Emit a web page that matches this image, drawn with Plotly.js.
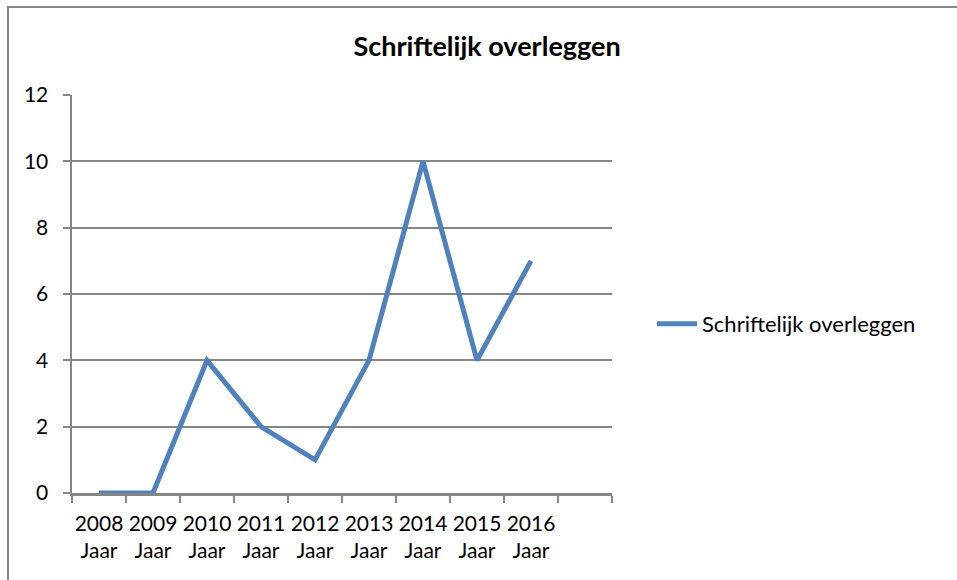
<!DOCTYPE html>
<html>
<head>
<meta charset="utf-8">
<script src="https://cdn.plot.ly/plotly-3.0.1.min.js"></script>
<style>html,body{margin:0;padding:0;background:#fff;}#chart{width:957px;height:580px;}</style>
</head>
<body>
<div id="chart"></div>
<script>
var categories = ["2008 Jaar", "2009 Jaar", "2010 Jaar", "2011 Jaar", "2012 Jaar", "2013 Jaar", "2014 Jaar", "2015 Jaar", "2016 Jaar"];
var tickLabels = ["2008<br>Jaar", "2009<br>Jaar", "2010<br>Jaar", "2011<br>Jaar", "2012<br>Jaar", "2013<br>Jaar", "2014<br>Jaar", "2015<br>Jaar", "2016<br>Jaar"];
var values = [0, 0, 4, 2, 1, 4, 10, 4, 7];
var seriesName = "Schriftelijk overleggen";
var chartTitle = "Schriftelijk overleggen";
var slotCount = 10;

var idx = categories.map(function(c, i){ return i; });
var boundaries = [];
for (var b = 0; b <= slotCount; b++) boundaries.push(b - 0.5);

var gray = "#868686";
var fontFam = "Lato, 'Open Sans', sans-serif";

var data = [{
  x: idx,
  y: values,
  type: "scatter",
  mode: "lines",
  name: seriesName,
  line: {color: "#4F81BD", width: 5},
  xaxis: "x",
  yaxis: "y"
}];

var layout = {
  width: 957,
  height: 580,
  margin: {l: 72, r: 345, t: 95, b: 87},
  paper_bgcolor: "#fff",
  plot_bgcolor: "#fff",
  font: {family: fontFam, size: 20, color: "#000"},
  title: {
    text: "<b>" + chartTitle + "</b>",
    font: {family: fontFam, size: 27, color: "#000"},
    xref: "container", x: 0.509, xanchor: "center",
    yref: "container", y: 1 - 47/580, yanchor: "middle"
  },
  showlegend: true,
  legend: {
    x: (652 - 72) / 540, xanchor: "left", y: 0.425, yanchor: "middle",
    font: {family: fontFam, size: 22, color: "#000"},
    itemwidth: 40, tracegroupgap: 0,
    bgcolor: "rgba(0,0,0,0)"
  },
  xaxis: {
    type: "linear",
    range: [-0.5, slotCount - 0.5],
    tickvals: idx,
    ticktext: tickLabels,
    ticks: "",
    showgrid: false,
    zeroline: false,
    showline: false,
    ticklabelstandoff: 16,
    tickfont: {family: fontFam, size: 21, color: "#000"},
    fixedrange: true
  },
  xaxis2: {
    overlaying: "x",
    anchor: "y",
    type: "linear",
    range: [-0.5, slotCount - 0.5],
    tickvals: boundaries,
    ticks: "outside",
    ticklen: 7,
    tickwidth: 2,
    tickcolor: gray,
    showticklabels: false,
    showgrid: false,
    zeroline: false,
    showline: true,
    linecolor: gray,
    linewidth: 2.5
  },
  yaxis: {
    range: [0, 12],
    dtick: 2,
    tick0: 0,
    ticks: "outside",
    ticklen: 7,
    tickwidth: 2,
    tickcolor: gray,
    showgrid: true,
    gridcolor: gray,
    gridwidth: 2,
    zeroline: false,
    showline: true,
    linecolor: gray,
    linewidth: 2.5,
    ticklabelstandoff: 10,
    tickfont: {family: fontFam, size: 21, color: "#000"}
  },
  shapes: [{
    type: "rect",
    xref: "paper", yref: "paper",
    x0: (8 - 72) / 540, x1: 2.0,
    y0: -0.4, y1: (493 - 7) / 398,
    line: {color: gray, width: 2},
    fillcolor: "rgba(0,0,0,0)",
    layer: "below"
  }]
};

// an invisible trace on xaxis2 so the overlay axis (boundary ticks) is drawn
data.push({x: [boundaries[0]], y: [0], xaxis: "x2", yaxis: "y", mode: "markers", marker: {opacity: 0}, showlegend: false, hoverinfo: "skip"});

Plotly.newPlot("chart", data, layout, {displayModeBar: false, staticPlot: true});
</script>
</body>
</html>
